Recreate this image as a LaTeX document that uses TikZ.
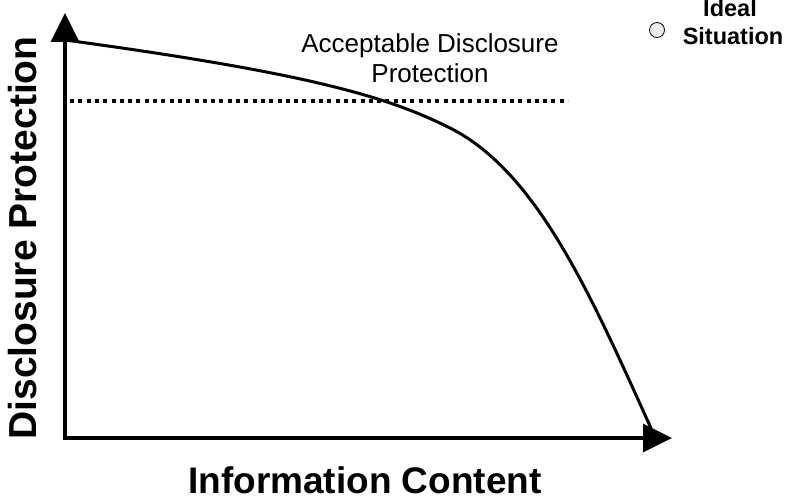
\documentclass[tikz,border=0pt]{standalone}
\usepackage{fontspec}
\setmainfont{Liberation Sans}
\usetikzlibrary{arrows.meta}
\begin{document}
\begin{tikzpicture}[x=1pt,y=-1pt,
  axis/.style={line width=3.5pt,-{Triangle[length=29pt,width=28pt]}},
  curveline/.style={line width=3pt,line join=round},
  dotline/.style={line width=3.3pt,dash pattern=on 4pt off 4.3pt},
  bigbold/.style={font=\fontsize{37}{44}\selectfont\bfseries,inner sep=0pt,anchor=base},
  ylab/.style={font=\fontsize{39}{46}\selectfont\bfseries,inner sep=0pt,rotate=90},
  plain/.style={font=\fontsize{26}{30}\selectfont,inner sep=0pt,anchor=base},
  small/.style={font=\fontsize{23.5}{28}\selectfont\bfseries,inner sep=0pt,anchor=base},
  marker/.style={circle,draw=black,fill=gray!15,line width=0.8pt,minimum size=15pt,inner sep=0pt}]
\useasboundingbox (0,0) rectangle (789,500);
\coordinate (o) at (65,438);
\coordinate (ytip) at (65,13);
\coordinate (xtip) at (672,438);
\coordinate (d1) at (70,101);
\coordinate (d2) at (568,101);
\coordinate (c0) at (65,40);
\coordinate (c1) at (450,128);
\coordinate (c2) at (655,437);
\draw[dotline] (d1) -- (d2);
\draw[curveline] (c0) .. controls (315,74) and (390,98) .. (c1)
  .. controls (540,173) and (595,305) .. (c2);
\draw[axis] ([yshift=1.75pt]o) -- (ytip);
\draw[axis] ([xshift=-1.75pt]o) -- (xtip);
\node[bigbold] (xl) at (365,493) {Information Content};
\node[ylab] (yl) at (23,238) {Disclosure Protection};
\node[plain] (a1) at (430,53) {Acceptable Disclosure};
\node[plain] (a2) at (430,83) {Protection};
\node[marker] (m) at (657,30) {};
\node[small] (i1) at (730,17) {Ideal};
\node[small] (i2) at (733,45) {Situation};
\end{tikzpicture}
\end{document}
